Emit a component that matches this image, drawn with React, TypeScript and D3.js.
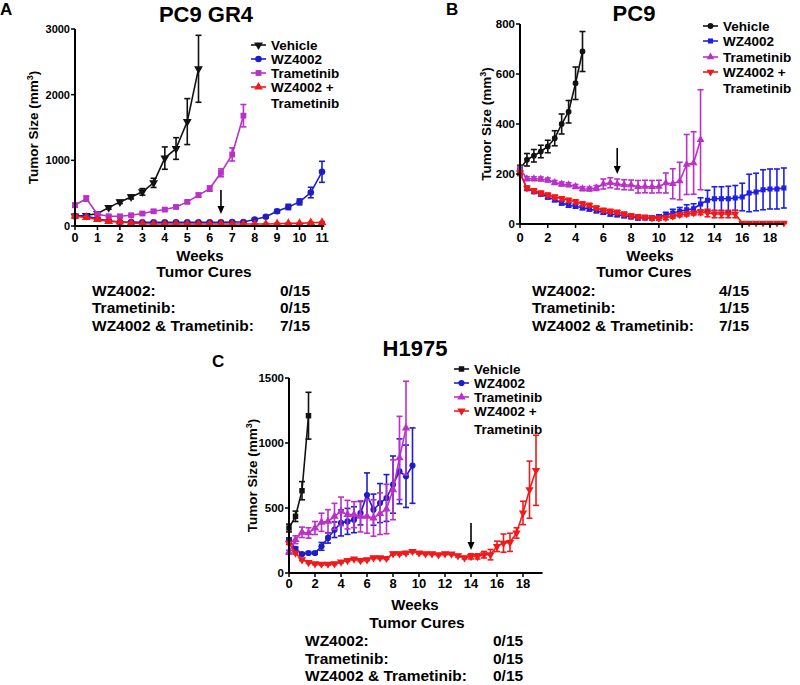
import React from 'react';
import * as d3 from 'd3';

const FONT = '"Liberation Sans", Arial, Helvetica, sans-serif';

// ---------- Panel A: PC9 GR4 ----------
const weeksA = [0, 0.5, 1, 1.5, 2, 2.5, 3, 3.5, 4, 4.5, 5, 5.5, 6, 6.5, 7, 7.5, 8, 8.5, 9, 9.5, 10, 10.5, 11];
const aVehicle = [150, 160, 190, 280, 367, 443, 520, 657, 1034, 1180, 1590, 2394];
const aVehicleErr = [20, 20, 20, 25, 25, 30, 50, 70, 170, 165, 350, 510];
const aWZ = [150, 150, 110, 80, 60, 60, 55, 55, 55, 55, 55, 55, 55, 55, 60, 60, 100, 140, 224, 290, 367, 510, 825];
const aWZErr = [20, 15, 15, 10, 10, 10, 10, 10, 10, 10, 10, 10, 10, 10, 10, 10, 15, 20, 25, 40, 45, 80, 160];
const aTram = [316, 418, 180, 148, 148, 163, 190, 224, 250, 290, 367, 470, 570, 810, 1090, 1680];
const aTramErr = [30, 40, 20, 15, 15, 15, 20, 20, 20, 20, 20, 30, 40, 60, 100, 170];
const aCombo = [150, 130, 100, 70, 60, 45, 35, 30, 30, 30, 30, 30, 30, 30, 30, 30, 30, 30, 35, 40, 40, 50, 55];
const aComboErr = [15, 12, 10, 10, 8, 8, 8, 8, 8, 8, 8, 8, 8, 8, 8, 8, 8, 8, 8, 8, 8, 10, 10];
const aXTicks = [0, 1, 2, 3, 4, 5, 6, 7, 8, 9, 10, 11];
const aYTicks = [0, 1000, 2000, 3000];
const aCures = [['WZ4002:', '0/15'], ['Trametinib:', '0/15'], ['WZ4002 & Trametinib:', '7/15']];

// ---------- Panel B: PC9 ----------
const weeksB = [0, 0.5, 1, 1.5, 2, 2.5, 3, 3.5, 4, 4.5, 5, 5.5, 6, 6.5, 7, 7.5, 8, 8.5, 9, 9.5, 10, 10.5, 11, 11.5, 12, 12.5, 13, 13.5, 14, 14.5, 15, 15.5, 16, 16.5, 17, 17.5, 18, 18.5, 19];
const bVehicle = [220, 257, 273, 290, 310, 343, 400, 449, 563, 690];
const bVehicleErr = [15, 25, 25, 25, 25, 30, 40, 45, 65, 80];
const bWZ = [204, 142, 130, 120, 108, 97, 84, 75, 71, 65, 60, 53, 47, 40, 37, 33, 29, 24, 25, 24, 29, 37, 44, 51, 57, 61, 80, 95, 101, 101, 101, 104, 108, 124, 128, 137, 140, 140, 144];
const bWZErr = [10, 8, 8, 8, 8, 8, 8, 8, 8, 8, 8, 8, 8, 8, 8, 8, 8, 8, 8, 8, 8, 10, 15, 15, 20, 20, 25, 40, 48, 48, 50, 50, 55, 75, 75, 80, 80, 80, 80];
const bTram = [221, 181, 181, 180, 176, 166, 160, 157, 150, 141, 140, 144, 160, 165, 160, 157, 156, 149, 150, 149, 150, 164, 161, 172, 238, 244, 337];
const bTramErr = [10, 8, 8, 8, 8, 8, 8, 8, 8, 8, 8, 10, 20, 20, 20, 20, 20, 25, 25, 25, 25, 40, 60, 75, 120, 125, 200];
const bCombo = [204, 144, 133, 124, 116, 108, 101, 95, 89, 81, 75, 64, 55, 51, 47, 40, 33, 29, 27, 24, 23, 25, 31, 37, 40, 44, 47, 44, 40, 40, 40, 40, 4, 4, 4, 4, 4, 4, 4];
const bComboErr = [8, 8, 8, 8, 8, 8, 8, 8, 8, 8, 8, 8, 8, 8, 8, 8, 8, 8, 8, 8, 8, 8, 8, 8, 8, 8, 10, 15, 15, 15, 15, 15, 2, 2, 2, 2, 2, 2, 2];
const bXTicks = [0, 2, 4, 6, 8, 10, 12, 14, 16, 18];
const bYTicks = [0, 200, 400, 600, 800];
const bCures = [['WZ4002:', '4/15'], ['Trametinib:', '1/15'], ['WZ4002 & Trametinib:', '7/15']];

// ---------- Panel C: H1975 ----------
const weeksC = weeksB;
const cVehicle = [346, 436, 633, 1210];
const cVehicleErr = [30, 40, 70, 180];
const cWZ = [256, 185, 146, 154, 154, 205, 270, 333, 385, 397, 410, 460, 600, 487, 538, 577, 680, 782, 744, 826];
const cWZErr = [15, 15, 10, 10, 10, 30, 40, 60, 100, 100, 100, 90, 170, 120, 150, 180, 220, 250, 240, 290];
const cTram = [160, 256, 313, 308, 346, 390, 397, 436, 474, 449, 449, 436, 436, 423, 456, 492, 640, 885, 1115];
const cTramErr = [15, 30, 40, 40, 50, 70, 90, 100, 110, 110, 100, 120, 130, 140, 160, 190, 230, 320, 360];
const cCombo = [230, 154, 103, 82, 72, 69, 69, 72, 85, 97, 108, 97, 103, 118, 118, 113, 149, 149, 154, 167, 154, 149, 149, 141, 149, 146, 133, 118, 128, 128, 141, 141, 205, 230, 236, 308, 462, 641, 790];
const cComboErr = [10, 8, 8, 8, 8, 8, 8, 8, 8, 8, 8, 8, 8, 8, 8, 8, 10, 10, 10, 10, 8, 8, 8, 8, 8, 8, 10, 10, 20, 20, 25, 40, 40, 70, 70, 40, 90, 220, 270];
const cXTicks = [0, 2, 4, 6, 8, 10, 12, 14, 16, 18];
const cYTicks = [0, 500, 1000, 1500];
const cCures = [['WZ4002:', '0/15'], ['Trametinib:', '0/15'], ['WZ4002 & Trametinib:', '0/15']];

const BLACK = '#111111';
const BLUE = '#1e1ec8';
const BLUE_B = '#1f1fe8';
const MAGENTA = '#bb30c8';
const RED = '#f01a1a';

type Shape = 'circle' | 'square' | 'up' | 'down';

interface Series {
  name: string;
  weeks: number[];
  values: number[];
  err: number[];
  color: string;
  shape: Shape;
}

function symbolPath(shape: Shape, size: number) {
  const t = shape === 'circle' ? d3.symbolCircle : shape === 'square' ? d3.symbolSquare : d3.symbolTriangle;
  return d3.symbol().type(t).size(size)() as string;
}

function Marker({ x, y, shape, color, size }: { x: number; y: number; shape: Shape; color: string; size: number }) {
  const rot = shape === 'down' ? ' rotate(180)' : '';
  return <path d={symbolPath(shape, size)} transform={`translate(${x},${y})${rot}`} fill={color} />;
}

interface PanelProps {
  letter: string;
  letterX: number;
  letterY: number;
  title: string;
  titleX: number;
  titleY: number;
  xDomain: [number, number];
  xRange: [number, number];
  axisEnd: number;
  yDomain: [number, number];
  yRange: [number, number];
  xTicks: number[];
  yTicks: number[];
  series: Series[];
  legendX: number;
  legendYs: number[];
  arrowWeek: number;
  arrowY: [number, number];
  xLabelY: number;
  ylabelX: number;
  tickFont: number;
  yTickFont: number;
  weeksY: number;
  weeksX: number;
  curesX: number;
  curesY: number;
  rowsX: number;
  valX: number;
  rowsY: number[];
  cures: string[][];
  markerSize: number;
}

function Panel(p: PanelProps) {
  const x = d3.scaleLinear().domain(p.xDomain).range(p.xRange);
  const y = d3.scaleLinear().domain(p.yDomain).range(p.yRange);
  const y0 = y(0);
  const x0 = x(0);
  const ax = x(p.arrowWeek);
  const line = d3.line<[number, number]>().x((d) => x(d[0])).y((d) => y(d[1]));
  return (
    <g fontFamily={FONT} fontWeight="bold">
      <text x={p.letterX} y={p.letterY} fontSize={17}>{p.letter}</text>
      <text x={p.titleX} y={p.titleY} fontSize={22} textAnchor="middle">{p.title}</text>
      {p.series.map((s) => {
        const pts = s.values.map((v, i) => [s.weeks[i], v] as [number, number]);
        return (
          <g key={s.name}>
            <path d={line(pts) as string} fill="none" stroke={s.color} strokeWidth={1.6} />
            {pts.map((d, i) => {
              const e = s.err[i];
              const px = x(d[0]);
              const top = y(d[1] + e);
              const bot = y(Math.max(0, d[1] - e));
              return (
                <g key={i} stroke={s.color} strokeWidth={1.6}>
                  <line x1={px} x2={px} y1={top} y2={bot} />
                  <line x1={px - 3} x2={px + 3} y1={top} y2={top} />
                  <line x1={px - 3} x2={px + 3} y1={bot} y2={bot} />
                </g>
              );
            })}
            {pts.map((d, i) => (
              <Marker key={'m' + i} x={x(d[0])} y={y(d[1])} shape={s.shape} color={s.color} size={p.markerSize} />
            ))}
          </g>
        );
      })}
      <line x1={x0} x2={x0} y1={y(p.yDomain[1])} y2={y0} stroke="#000" strokeWidth={2} />
      <line x1={x0} x2={x(p.axisEnd)} y1={y0} y2={y0} stroke="#000" strokeWidth={2} />
      {p.yTicks.map((t) => (
        <g key={'y' + t}>
          <line x1={x0 - 4} x2={x0} y1={y(t)} y2={y(t)} stroke="#000" strokeWidth={1.5} />
          <text x={x0 - 5} y={y(t) + 4} fontSize={p.yTickFont} textAnchor="end">{t}</text>
        </g>
      ))}
      {p.xTicks.map((t) => (
        <g key={'x' + t}>
          <line x1={x(t)} x2={x(t)} y1={y0} y2={y0 + 4} stroke="#000" strokeWidth={1.5} />
          <text x={x(t)} y={p.xLabelY} fontSize={p.tickFont} textAnchor="middle">{t}</text>
        </g>
      ))}
      <text
        transform={`translate(${p.ylabelX},${(y(p.yDomain[1]) + y0) / 2}) rotate(-90)`}
        fontSize={13.5}
        textAnchor="middle"
      >
        Tumor Size (mm<tspan dy={-5} fontSize={9}>3</tspan><tspan dy={5}>)</tspan>
      </text>
      <line x1={ax} x2={ax} y1={p.arrowY[0]} y2={p.arrowY[1] - 6} stroke="#000" strokeWidth={1.6} />
      <path d={`M${ax - 3.5},${p.arrowY[1] - 8} L${ax + 3.5},${p.arrowY[1] - 8} L${ax},${p.arrowY[1]} Z`} fill="#000" />
      {p.series.map((s, i) => (
        <g key={'l' + s.name}>
          <line x1={p.legendX} x2={p.legendX + 15} y1={p.legendYs[i]} y2={p.legendYs[i]} stroke={s.color} strokeWidth={1.6} />
          <Marker x={p.legendX + 7.5} y={p.legendYs[i]} shape={s.shape} color={s.color} size={p.markerSize} />
          <text x={p.legendX + 20} y={p.legendYs[i] + 5} fontSize={13.5}>
            {s.name === 'combo' ? 'WZ4002 +' : s.name}
          </text>
        </g>
      ))}
      <text x={p.legendX + 20} y={p.legendYs[4] + 5} fontSize={13.5}>Trametinib</text>
      <text x={p.weeksX} y={p.weeksY} fontSize={15} textAnchor="middle">Weeks</text>
      <text x={p.curesX} y={p.curesY} fontSize={15.5} textAnchor="middle">Tumor Cures</text>
      {p.cures.map((r, i) => (
        <g key={'c' + i}>
          <text x={p.rowsX} y={p.rowsY[i]} fontSize={15.5}>{r[0]}</text>
          <text x={p.valX} y={p.rowsY[i]} fontSize={15.5}>{r[1]}</text>
        </g>
      ))}
    </g>
  );
}

export default function App() {
  const seriesA: Series[] = [
    { name: 'Vehicle', weeks: weeksA, values: aVehicle, err: aVehicleErr, color: BLACK, shape: 'down' },
    { name: 'WZ4002', weeks: weeksA, values: aWZ, err: aWZErr, color: BLUE, shape: 'circle' },
    { name: 'Trametinib', weeks: weeksA, values: aTram, err: aTramErr, color: MAGENTA, shape: 'square' },
    { name: 'combo', weeks: weeksA, values: aCombo, err: aComboErr, color: RED, shape: 'up' },
  ];
  const seriesB: Series[] = [
    { name: 'Vehicle', weeks: weeksB, values: bVehicle, err: bVehicleErr, color: BLACK, shape: 'circle' },
    { name: 'WZ4002', weeks: weeksB, values: bWZ, err: bWZErr, color: BLUE_B, shape: 'square' },
    { name: 'Trametinib', weeks: weeksB, values: bTram, err: bTramErr, color: MAGENTA, shape: 'up' },
    { name: 'combo', weeks: weeksB, values: bCombo, err: bComboErr, color: RED, shape: 'down' },
  ];
  const seriesC: Series[] = [
    { name: 'Vehicle', weeks: weeksC, values: cVehicle, err: cVehicleErr, color: BLACK, shape: 'square' },
    { name: 'WZ4002', weeks: weeksC, values: cWZ, err: cWZErr, color: BLUE, shape: 'circle' },
    { name: 'Trametinib', weeks: weeksC, values: cTram, err: cTramErr, color: MAGENTA, shape: 'up' },
    { name: 'combo', weeks: weeksC, values: cCombo, err: cComboErr, color: RED, shape: 'down' },
  ];
  return (
    <svg width={800} height={685} style={{ position: 'absolute', left: 0, top: 0, background: '#fff' }}>
      <rect width={800} height={685} fill="#fff" />
      <Panel
        letter="A" letterX={0} letterY={15} title="PC9 GR4" titleX={206} titleY={22}
        xDomain={[0, 11]} xRange={[75, 322]} axisEnd={11.1} yDomain={[0, 3000]} yRange={[226, 29]}
        xTicks={aXTicks} yTicks={aYTicks} series={seriesA}
        legendX={251} legendYs={[45, 59, 73, 87, 103]}
        arrowWeek={6.5} arrowY={[190, 214]}
        xLabelY={242} ylabelX={38} tickFont={12.5} yTickFont={11}
        weeksX={200} weeksY={261} curesX={204} curesY={277}
        rowsX={92} valX={280} rowsY={[296, 313, 331]} cures={aCures} markerSize={34}
      />
      <Panel
        letter="B" letterX={446} letterY={15} title="PC9" titleX={634} titleY={21}
        xDomain={[0, 18]} xRange={[520, 770]} axisEnd={19} yDomain={[0, 800]} yRange={[224, 24]}
        xTicks={bXTicks} yTicks={bYTicks} series={seriesB}
        legendX={703} legendYs={[26, 41, 57, 72, 88]}
        arrowWeek={7} arrowY={[148, 174]}
        xLabelY={242} ylabelX={491} tickFont={13} yTickFont={11.5}
        weeksX={650} weeksY={261} curesX={644} curesY={277}
        rowsX={532} valX={719} rowsY={[296, 313, 331]} cures={bCures} markerSize={26}
      />
      <Panel
        letter="C" letterX={212} letterY={367} title="H1975" titleX={415} titleY={356}
        xDomain={[0, 18]} xRange={[289, 523]} axisEnd={19.5} yDomain={[0, 1500]} yRange={[573, 378]}
        xTicks={cXTicks} yTicks={cYTicks} series={seriesC}
        legendX={454} legendYs={[369, 383, 397, 411, 429]}
        arrowWeek={14} arrowY={[523, 550]}
        xLabelY={588} ylabelX={257} tickFont={13} yTickFont={11.5}
        weeksX={415} weeksY={610} curesX={417} curesY={628}
        rowsX={305} valX={493} rowsY={[646, 664, 681]} cures={cCures} markerSize={30}
      />
    </svg>
  );
}
